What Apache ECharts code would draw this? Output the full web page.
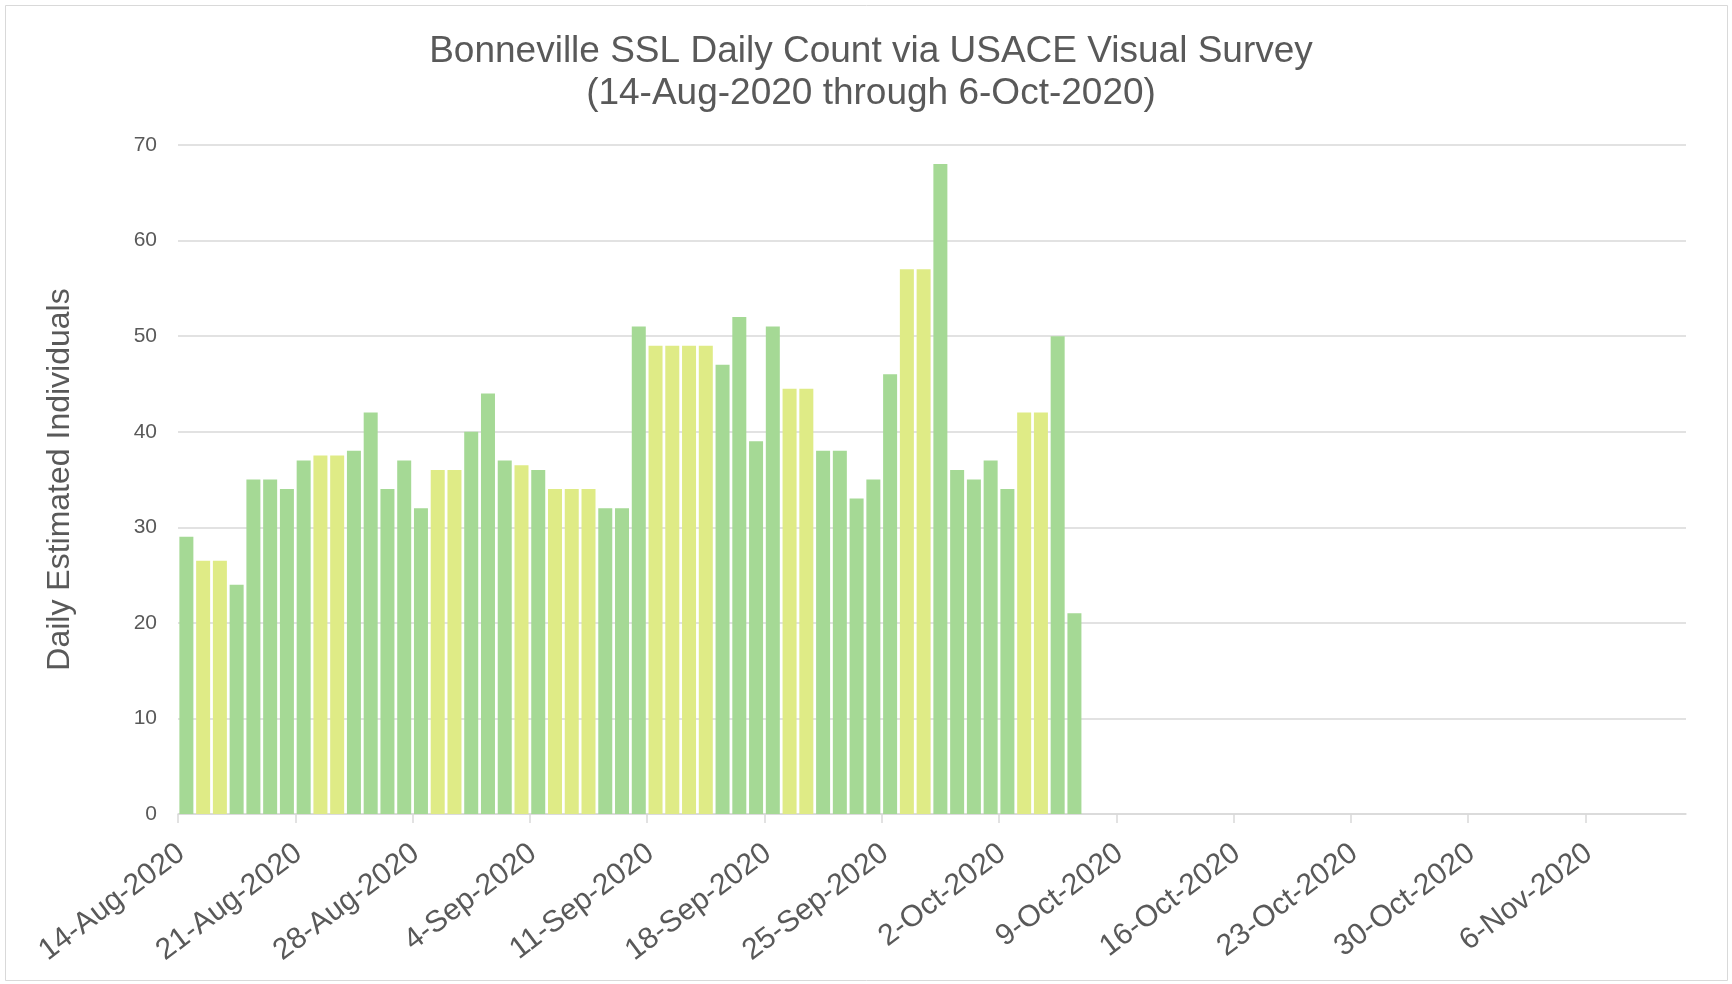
<!DOCTYPE html>
<html>
<head>
<meta charset="utf-8">
<title>Bonneville SSL Daily Count</title>
<script src="https://cdn.jsdelivr.net/npm/echarts@6/dist/echarts.min.js"></script>
<style>
    html, body { margin: 0; padding: 0; background: #fff; }
    #container { width: 1732px; height: 984px; }
</style>
</head>
<body>
<div id="container"></div>
<script>
// daily counts, one per day starting 14-Aug-2020
var counts = [29, 26.5, 26.5, 24, 35, 35, 34, 37, 37.5, 37.5,
    38, 42, 34, 37, 32, 36, 36, 40, 44, 37,
    36.5, 36, 34, 34, 34, 32, 32, 51, 49, 49,
    49, 49, 47, 52, 39, 51, 44.5, 44.5, 38, 38,
    33, 35, 46, 57, 57, 68, 36, 35, 37, 34,
    42, 42, 50, 21];
// days (index from 14-Aug) shown in the lighter yellow colour
var estimatedDays = [1, 2, 8, 9, 15, 16, 20, 22, 23, 24, 28, 29, 30, 31, 36, 37, 43, 44, 50, 51];
// weekly tick labels on the date axis
var tickLabels = ['14-Aug-2020', '21-Aug-2020', '28-Aug-2020', '4-Sep-2020', '11-Sep-2020',
    '18-Sep-2020', '25-Sep-2020', '2-Oct-2020', '9-Oct-2020', '16-Oct-2020',
    '23-Oct-2020', '30-Oct-2020', '6-Nov-2020'];
var yTicks = [0, 10, 20, 30, 40, 50, 60, 70];

var green = '#a5d995';
var yellow = '#dfeb86';
var textColor = '#595959';
var fontName = '"Liberation Sans", Arial, sans-serif';

// ticks every 7 days; labels sit a little right of their tick (as in Excel)
var labelShift = 0.2;
var tickValues = [], labelValues = [];
for (var i = 0; i < tickLabels.length; i++) {
    tickValues.push(i * 7);
    labelValues.push(i * 7 + labelShift);
}

var seriesData = [];
for (var i = 0; i < counts.length; i++) {
    seriesData.push({
        value: [i + 0.5, counts[i]],
        itemStyle: { color: estimatedDays.indexOf(i) >= 0 ? yellow : green }
    });
}

var myChart = echarts.init(document.getElementById('container'));
var option = {
    backgroundColor: '#fff',
    animation: false,
    title: {
        text: 'Bonneville SSL Daily Count via USACE Visual Survey\n(14-Aug-2020 through 6-Oct-2020)',
        left: 866,
        textAlign: 'center',
        top: 26,
        textStyle: {
            color: textColor,
            fontFamily: fontName,
            fontWeight: 'normal',
            fontSize: 37,
            lineHeight: 42
        }
    },
    graphic: [{
        type: 'rect',
        shape: { x: 5.5, y: 5.5, width: 1722, height: 975 },
        style: { fill: 'none', stroke: '#d9d9d9', lineWidth: 1 },
        silent: true
    }],
    grid: {
        left: 178,
        right: 46,
        top: 145,
        bottom: 170
    },
    xAxis: {
        type: 'value',
        min: 0,
        max: 90,
        interval: 7,
        axisLine: { show: true, lineStyle: { color: '#d9d9d9', width: 1.5 } },
        axisTick: {
            show: true,
            length: 9,
            customValues: tickValues,
            lineStyle: { color: '#d9d9d9', width: 1.5 }
        },
        splitLine: { show: false },
        axisLabel: {
            rotate: 37,
            margin: 36,
            customValues: labelValues,
            color: textColor,
            fontFamily: fontName,
            fontSize: 30,
            formatter: function (v) {
                return tickLabels[Math.round((v - labelShift) / 7)] || '';
            }
        }
    },
    yAxis: {
        type: 'value',
        min: yTicks[0],
        max: yTicks[yTicks.length - 1],
        interval: 10,
        name: 'Daily Estimated Individuals',
        nameLocation: 'middle',
        nameGap: 102,
        nameTextStyle: {
            color: textColor,
            fontFamily: fontName,
            fontSize: 32
        },
        axisLine: { show: false },
        axisTick: { show: false },
        axisLabel: {
            margin: 21,
            color: textColor,
            fontFamily: fontName,
            fontSize: 21
        },
        splitLine: { lineStyle: { color: '#d9d9d9', width: 1.5 } }
    },
    series: [{
        name: 'Daily count',
        type: 'bar',
        barWidth: 14,
        data: seriesData
    }]
};
if (option && typeof option === 'object') {
    myChart.setOption(option, true);
}
</script>
</body>
</html>
